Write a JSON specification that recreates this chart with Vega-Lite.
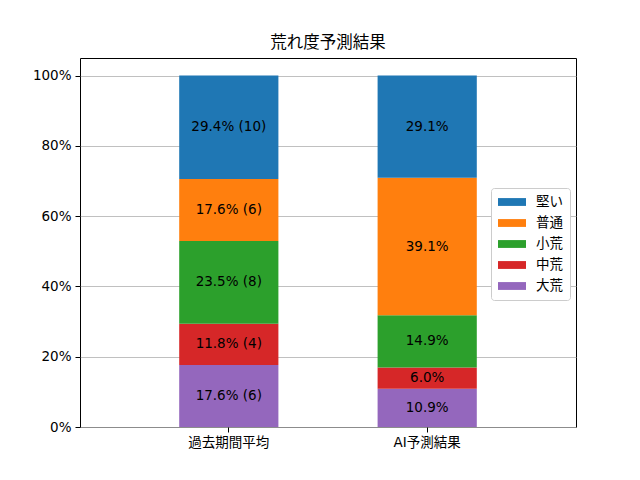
{
  "$schema": "https://vega.github.io/schema/vega-lite/v6.json",
  "width": 496,
  "height": 369,
  "autosize": {"type": "none"},
  "padding": {"left": 80, "top": 58, "right": 64, "bottom": 53},
  "background": "white",
  "config": {
    "view": {"stroke": "black", "strokeWidth": 1},
    "font": "DejaVu Sans, Noto Sans CJK JP"
  },
  "title": {
    "text": "荒れ度予測結果",
    "fontSize": 16.5,
    "fontWeight": "normal",
    "color": "black",
    "offset": 7,
    "anchor": "middle"
  },
  "data": {
    "values": [
      {"cat": "過去期間平均", "type": "大荒", "ord": 1, "pct": 17.65, "label": "17.6% (6)"},
      {"cat": "過去期間平均", "type": "中荒", "ord": 2, "pct": 11.76, "label": "11.8% (4)"},
      {"cat": "過去期間平均", "type": "小荒", "ord": 3, "pct": 23.53, "label": "23.5% (8)"},
      {"cat": "過去期間平均", "type": "普通", "ord": 4, "pct": 17.65, "label": "17.6% (6)"},
      {"cat": "過去期間平均", "type": "堅い", "ord": 5, "pct": 29.41, "label": "29.4% (10)"},
      {"cat": "AI予測結果", "type": "大荒", "ord": 1, "pct": 10.9, "label": "10.9%"},
      {"cat": "AI予測結果", "type": "中荒", "ord": 2, "pct": 6.0, "label": "6.0%"},
      {"cat": "AI予測結果", "type": "小荒", "ord": 3, "pct": 14.9, "label": "14.9%"},
      {"cat": "AI予測結果", "type": "普通", "ord": 4, "pct": 39.1, "label": "39.1%"},
      {"cat": "AI予測結果", "type": "堅い", "ord": 5, "pct": 29.1, "label": "29.1%"}
    ]
  },
  "transform": [
    {"stack": "pct", "groupby": ["cat"], "sort": [{"field": "ord"}], "as": ["y0", "y1"]},
    {"calculate": "(datum.y0 + datum.y1) / 2", "as": "ymid"}
  ],
  "encoding": {
    "x": {
      "field": "cat",
      "type": "nominal",
      "sort": ["過去期間平均", "AI予測結果"],
      "scale": {"paddingInner": 0.5, "paddingOuter": 0.5},
      "axis": {
        "title": null,
        "labelAngle": 0,
        "domain": false,
        "tickSize": 5,
        "tickColor": "black",
        "labelColor": "black",
        "labelFontSize": 13.5,
        "labelPadding": 3
      }
    }
  },
  "layer": [
    {
      "mark": {"type": "bar"},
      "encoding": {
        "y": {
          "field": "y0",
          "type": "quantitative",
          "scale": {"domain": [0, 105], "nice": false},
          "axis": {
            "title": null,
            "values": [0, 20, 40, 60, 80, 100],
            "labelExpr": "datum.value + '%'",
            "grid": true,
            "gridColor": "#b0b0b0",
            "gridWidth": 0.8,
            "domain": false,
            "tickSize": 5,
            "tickColor": "black",
            "labelColor": "black",
            "labelFontSize": 13.5,
            "labelPadding": 4
          }
        },
        "y2": {"field": "y1"},
        "color": {
          "field": "type",
          "type": "nominal",
          "scale": {
            "domain": ["堅い", "普通", "小荒", "中荒", "大荒"],
            "range": ["#1f77b4", "#ff7f0e", "#2ca02c", "#d62728", "#9467bd"]
          },
          "legend": {
            "title": null,
            "orient": "none",
            "legendX": 411,
            "legendY": 130,
            "padding": 7,
            "fillColor": "white",
            "strokeColor": "#cccccc",
            "cornerRadius": 3,
            "symbolType": "M-1,-0.28H1V0.28H-1Z",
            "symbolSize": 784,
            "symbolStrokeWidth": 0,
            "symbolOpacity": 1,
            "clipHeight": 14,
            "rowPadding": 7,
            "labelFontSize": 13.5,
            "labelColor": "black",
            "labelOffset": 10
          }
        }
      }
    },
    {
      "mark": {"type": "text", "fontSize": 13.5, "color": "black"},
      "encoding": {
        "y": {"field": "ymid", "type": "quantitative"},
        "text": {"field": "label"}
      }
    }
  ]
}
